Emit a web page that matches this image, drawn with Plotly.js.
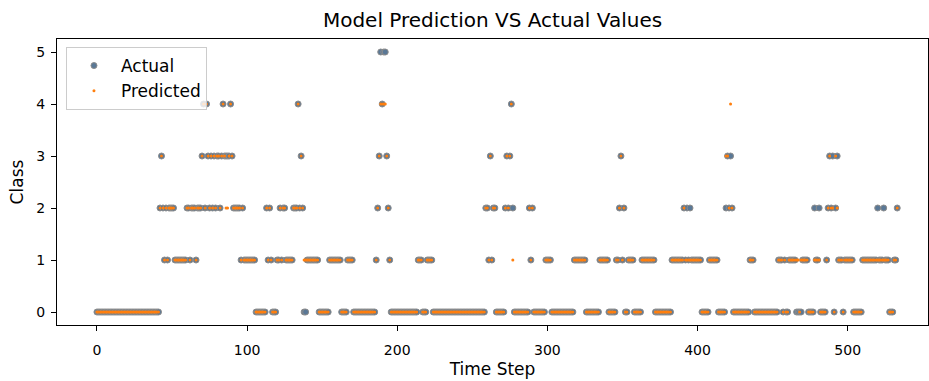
<!DOCTYPE html>
<html>
<head>
<meta charset="utf-8">
<script src="https://cdn.plot.ly/plotly-3.0.1.min.js"></script>
<style>html,body{margin:0;padding:0;background:#fff;}#chart{width:929px;height:381px;}</style>
</head>
<body>
<div id="chart"></div>
<script>
// Actual class per time step (literal digits, one per step, in order)
const actualChunks = [
  "0000000000","0000000000","0000000000","0000000000","00",
  "2321212222","11111111","2212221222","3424323232","3323433334","322222121",
  "1111111","0000000","2121","000","11212211111","2224232","00",
  "11111111","0000000","11111111","0000","1111",
  "0000000000","00000",
  "1235455321",
  "0000000000","0000000",
  "01110001111",
  "0000000000","0000000000","0000000000","00000",
  "2213122","000000","232342","0000000000","212","00000000","1111",
  "0000000000","00000",
  "11111111","000000000","111111","00000","112312001111","00000","111111111",
  "0000000000","0",
  "11111111","21212","1111111",
  "00000","111111","00000","23232",
  "0000000000","0",
  "111",
  "0000000000","000000",
  "111010011111","00001111","0000","2112","0000","1","2323023","111","0","111111","000000",
  "1111111111","2111211","1000112"
];
// Predicted class per time step (same layout as above)
const predictedChunks = [
  "0000000000","0000000000","0000000000","0000000000","00",
  "2321212222","11111111","2212221222","3424323232","3323432234","322222121",
  "1111111","0000000","2121","000","11212211111","2224232","11",
  "11111111","0000000","11111111","0000","1111",
  "0000000000","00000",
  "1234444321",
  "0000000000","0000000",
  "01110001111",
  "0000000000","0000000000","0000000000","00000",
  "2213122","000000","232341","0000000000","212","00000000","1111",
  "0000000000","00000",
  "11111111","000000000","111111","00000","112312001111","00000","111111111",
  "0000000000","0",
  "11111111","21111","1111111",
  "00000","111111","00000","33242",
  "0000000000","0",
  "111",
  "0000000000","000000",
  "111010011111","11011111","0000","1111","0000","1","2322032","111","0","111111","000000",
  "1111111111","1111111","1000112"
];
const xTicks = [0, 100, 200, 300, 400, 500];
const yTicks = [0, 1, 2, 3, 4, 5];

const actual = actualChunks.join("").split("").map(Number);
const predicted = predictedChunks.join("").split("").map(Number);
const steps = actual.map((_, i) => i);

const font = "DejaVu Sans, Liberation Sans, sans-serif";

const traces = [
  {
    x: steps, y: actual, type: "scatter", mode: "markers", name: "Actual",
    marker: {size: 6, color: "#5a7896", line: {color: "#8c8c8c", width: 1}}
  },
  {
    x: steps.slice(0, predicted.length), y: predicted, type: "scatter", mode: "markers", name: "Predicted",
    marker: {size: 3, color: "#ff7f0e"}
  }
];

const axisCommon = {
  showline: true, mirror: true, linecolor: "#000", linewidth: 1,
  ticks: "outside", ticklen: 5, tickwidth: 1, tickcolor: "#000",
  showgrid: false, zeroline: false,
  tickfont: {family: font, size: 14, color: "#000"}
};

const layout = {
  width: 929, height: 381,
  margin: {l: 57, r: 1, t: 39, b: 56},
  paper_bgcolor: "#fff", plot_bgcolor: "#fff",
  font: {family: font, color: "#000"},
  title: {text: "Model Prediction VS Actual Values", font: {family: font, size: 20, color: "#000"},
          x: 0.5, xref: "paper", y: 1 - 20 / 381, yref: "container", yanchor: "middle"},
  xaxis: Object.assign({}, axisCommon, {
    range: [-26.6, 553.5], tickvals: xTicks, ticktext: xTicks.map(String), ticklabelstandoff: 7,
    title: {text: "Time Step", font: {family: font, size: 17, color: "#000"}, standoff: 6}
  }),
  yaxis: Object.assign({}, axisCommon, {
    range: [-0.25, 5.25], tickvals: yTicks, ticktext: yTicks.map(String), ticklabelstandoff: 3,
    title: {text: "Class", font: {family: font, size: 17, color: "#000"}, standoff: 8}
  }),
  showlegend: true,
  legend: {
    x: 0.0103, y: 0.972, xanchor: "left", yanchor: "top",
    bgcolor: "rgba(255,255,255,0.8)", bordercolor: "#cccccc", borderwidth: 1,
    font: {family: font, size: 17, color: "#000"}, itemsizing: "trace", itemwidth: 44
  }
};

Plotly.newPlot("chart", traces, layout, {displayModeBar: false, staticPlot: true});
</script>
</body>
</html>
